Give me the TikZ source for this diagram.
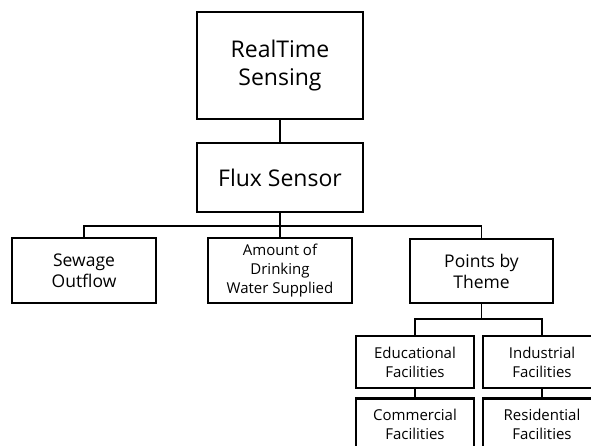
\documentclass[tikz,border=0pt]{standalone}
\usepackage{fontspec}
\setmainfont{Open Sans}
\begin{document}
\begin{tikzpicture}[x=1pt,y=-1pt,
  box/.style={draw=black,line width=2.6pt,fill=white,inner sep=0pt,align=center},
  conn/.style={draw=black,line width=1.3pt},
  big/.style={font=\fontsize{23}{28}\selectfont},
  mid/.style={font=\fontsize{17.5}{21}\selectfont},
  small/.style={font=\fontsize{15}{19}\selectfont}]
\useasboundingbox (0,0) rectangle (591,446);
\clip (0,0) rectangle (591,446);
\node[box,big,minimum width=166pt,minimum height=107pt] (rt) at (280,65.5) {RealTime\\Sensing};
\node[box,big,minimum width=166pt,minimum height=69pt] (flux) at (280,177.5) {Flux Sensor};
\node[box,mid,minimum width=144pt,minimum height=65pt] (sew) at (84,270.5) {Sewage\\Outflow};
\node[box,small,minimum width=144pt,minimum height=65pt] (amt) at (280,270.5) {Amount of\\Drinking\\Water Supplied};
\node[box,mid,minimum width=143pt,minimum height=64pt] (pts) at (481.5,271) {Points by\\Theme};
\node[box,small,minimum width=118pt,minimum height=52pt] (edu) at (415,362) {Educational\\Facilities};
\node[box,small,minimum width=118pt,minimum height=52pt] (ind) at (542,362) {Industrial\\Facilities};
\node[box,small,minimum width=118pt,minimum height=52pt,anchor=north] (com) at (415,397) {Commercial\\Facilities};
\node[box,small,minimum width=118pt,minimum height=52pt,anchor=north] (res) at (542,397) {Residential\\Facilities};
\coordinate (h1) at (280,226);
\coordinate (h2) at (481.5,319);
\begin{scope}[on background layer/.style={}]
\end{scope}
\draw[conn] (rt.south) -- (flux.north);
\draw[conn] (flux.south) -- (h1) -| (sew.north);
\draw[conn] (h1) -- (amt.north);
\draw[conn] (h1) -| (pts.north);
\draw[conn] (pts.south) -- (h2) -| (edu.north);
\draw[conn] (h2) -| (ind.north);
\draw[conn] (edu.south) -- (com.north);
\draw[conn] (ind.south) -- (res.north);
\end{tikzpicture}
\end{document}
